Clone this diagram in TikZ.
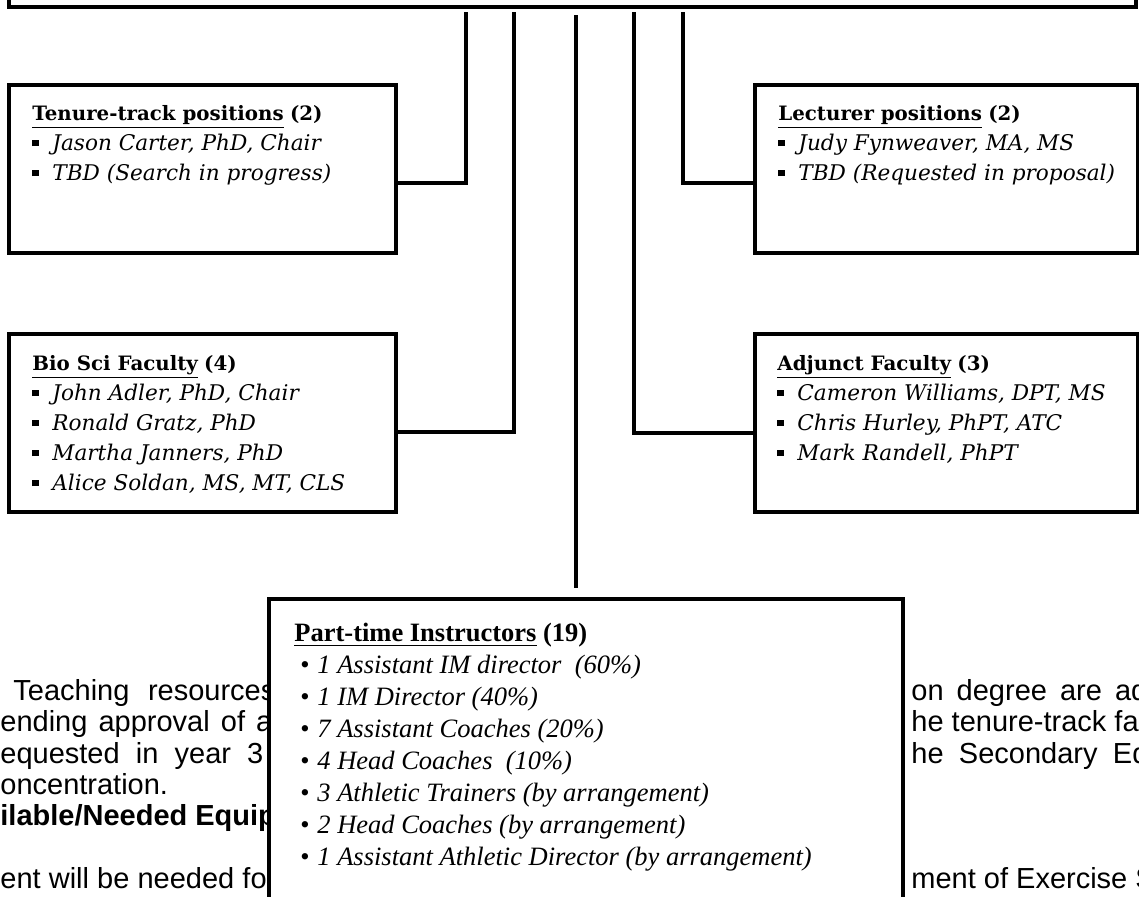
\documentclass[tikz,border=0pt]{standalone}
\usepackage{fontspec}
\setmainfont{Liberation Serif}
\newfontfamily\boxfont{DejaVu Serif}
\newfontfamily\bodyfont{Liberation Sans}
\usetikzlibrary{calc}

\newcommand{\sqbul}{\raisebox{0.2em}{\rule{0.3em}{0.3em}}}
\newcommand{\sqitem}[1]{\makebox[10pt][l]{\sqbul}\textit{#1}}
\newcommand{\dotitem}[1]{\hspace*{3pt}\makebox[8.5pt][l]{\textbullet}\textit{#1}}
\newcommand{\boxhead}[2]{\textbf{\underline{#1}} \textbf{(#2)}}
\newcommand{\smallhead}[2]{{\fontsize{9.9}{15}\selectfont\boxhead{#1}{#2}}}

\begin{document}
\begin{tikzpicture}[x=0.5pt,y=-0.5pt,
  panel/.style={draw,line width=1.8pt,fill=white,inner sep=0pt},
  link/.style={line width=1.8pt},
  boxtext/.style={anchor=north west,inner sep=0pt,align=left,font=\boxfont\fontsize{10.8}{15}\selectfont},
  bodytext/.style={anchor=base west,inner sep=0pt,font=\bodyfont\fontsize{14.5}{16}\selectfont}]
\useasboundingbox (0,0) rectangle (1139,896);
\clip (0,0) rectangle (1139,896);
\fill[white] (0,0) rectangle (1139,896);

% page text behind the chart
\node[bodytext] (p1l) at (13,700) {\makebox[131pt][s]{Teaching resources}};
\node[bodytext] (p2l) at (0,731) {\makebox[136pt][s]{ending approval of a}};
\node[bodytext] (p3l) at (0,763) {\makebox[131.5pt][s]{equested in year 3}};
\node[bodytext] (p4l) at (0,794) {oncentration.};
\node[bodytext] (p5l) at (0,825) {\textbf{ilable/Needed Equip}};
\node[bodytext] (p6l) at (0,888) {\makebox[138pt][s]{ent will be needed for}};
\node[bodytext] (p1r) at (911,700) {\makebox[118pt][s]{on degree are ad}};
\node[bodytext] (p2r) at (911,731) {he tenure-track fac};
\node[bodytext] (p3r) at (911,763) {\makebox[118.5pt][s]{he Secondary Ed}};
\node[bodytext] (p6r) at (911,888) {ment of Exercise S};

% chart
\node[panel,line width=2pt,minimum width=563.5pt,minimum height=60pt] (dept) at (572.5,-53) {};
\coordinate (d1) at (466,12);
\coordinate (d2) at (514,12);
\coordinate (d3) at (576,15);
\coordinate (d4) at (634,12);
\coordinate (d5) at (683,12);

\node[panel,minimum width=193.5pt,minimum height=84pt] (tenure) at (202.5,169) {};
\node[panel,minimum width=191.5pt,minimum height=84pt] (lecturer) at (946.5,169) {};
\node[panel,minimum width=193.5pt,minimum height=89pt] (biosci) at (202.5,423) {};
\node[panel,minimum width=191.5pt,minimum height=89pt] (adjunct) at (946.5,423) {};
\node[panel,line width=2pt,minimum width=317pt,minimum height=175.5pt] (parttime) at (586,774.5) {};

\draw[link] (d1) |- ([yshift=-7pt]tenure.east);
\draw[link] (d2) |- ([yshift=-4.5pt]biosci.east);
\draw[link] (d3) -- ([yshift=4.5pt]parttime.north -| d3);
\draw[link] (d4) |- ([yshift=-5pt]adjunct.west);
\draw[link] (d5) |- ([yshift=-7pt]lecturer.west);

\node[boxtext] (tenuretxt) at (32,105) {\smallhead{Tenure-track positions}{2}\\
  \sqitem{Jason Carter, PhD, Chair}\\
  \sqitem{TBD (Search in progress)}};
\node[boxtext] (lecturertxt) at (778,105) {\smallhead{Lecturer positions}{2}\\
  \sqitem{Judy Fynweaver, MA, MS}\\
  \sqitem{TBD (Requested in proposal)}};
\node[boxtext] (bioscitxt) at (32,355) {\smallhead{Bio Sci Faculty}{4}\\
  \sqitem{John Adler, PhD, Chair}\\
  \sqitem{Ronald Gratz, PhD}\\
  \sqitem{Martha Janners, PhD}\\
  \sqitem{Alice Soldan, MS, MT, CLS}};
\node[boxtext] (adjuncttxt) at (777,355) {\smallhead{Adjunct Faculty}{3}\\
  \sqitem{Cameron Williams, DPT, MS}\\
  \sqitem{Chris Hurley, PhPT, ATC}\\
  \sqitem{Mark Randell, PhPT}};
\node[anchor=north west,inner sep=0pt,align=left,font=\fontsize{13.25}{16}\selectfont] (parttimetxt) at (294,623) {\boxhead{Part-time Instructors}{19}\\
  \dotitem{1 Assistant IM director\ \ (60\%)}\\
  \dotitem{1 IM Director (40\%)}\\
  \dotitem{7 Assistant Coaches (20\%)}\\
  \dotitem{4 Head Coaches\ \ (10\%)}\\
  \dotitem{3 Athletic Trainers (by arrangement)}\\
  \dotitem{2 Head Coaches (by arrangement)}\\
  \dotitem{1 Assistant Athletic Director (by arrangement)}};
\end{tikzpicture}
\end{document}
